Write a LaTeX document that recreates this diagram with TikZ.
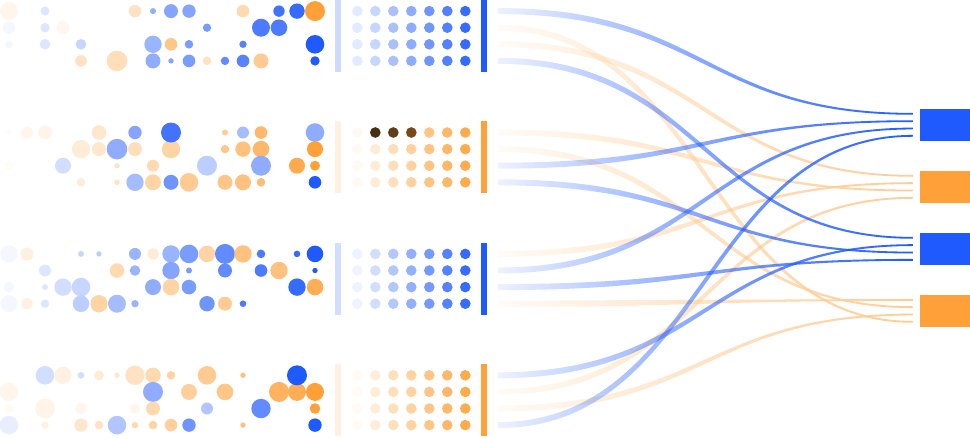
\documentclass[tikz,border=0pt]{standalone}
\usepackage{xcolor}
\usepackage{tikz}
\usetikzlibrary{calc,fadings,positioning}
\definecolor{myblue}{RGB}{31,90,255}
\definecolor{myorange}{RGB}{255,160,56}
\definecolor{mybrowndk}{RGB}{70,48,22}
\definecolor{mybrown}{RGB}{95,62,25}
\definecolor{mybrownlt}{RGB}{118,74,28}
\tikzfading[name=flowfade, left color=transparent!92, right color=transparent!0]

% tapered band from a row end to a target slot
\newcommand\flowband[3]{%
  \fill[fill=#3, path fading=flowfade]
    let \p1=(#1), \p2=(#2), \n3={(\x2-\x1)/2},
        \n1={atan2(\y2-\y1,\n3)}, \n2={-2.6*tan(\n1/2)} in
    (\x1,\y1+3pt) .. controls (\x1+\n3*1pt+\n2*1pt,\y1+3pt) and (\x2-\n3*1pt+\n2*1pt,\y2+0.9pt) .. (\x2,\y2+0.9pt)
    -- (\x2,\y2-0.9pt) .. controls (\x2-\n3*1pt-\n2*1pt,\y2-0.9pt) and (\x1+\n3*1pt-\n2*1pt,\y1-3pt) .. (\x1,\y1-3pt) -- cycle;}

\begin{document}
\begin{tikzpicture}[x=1pt, y=-1pt,
    sink/.style={minimum width=50pt, minimum height=31.7pt, inner sep=0pt, outer sep=0pt}]
  \useasboundingbox (0,0) rectangle (970,437);

  % scattered samples, group 1
  \foreach \col/\row/\rad/\tint in {0/0/9/myorange!10, 2/0/4.5/myblue!15, 7/0/6.3/myorange!30, 8/0/3/myblue!50,
      9/0/7/myblue!55, 10/0/6.7/myblue!55, 13/0/6.3/myorange!40, 15/0/5.7/myblue!85, 16/0/7.7/myblue!90, 17/0/10/myorange,
      0/1/6.3/myblue!5, 2/1/4.7/myblue!15, 3/1/6.7/myorange!8, 11/1/4.2/myblue!60, 14/1/9/myblue!80, 15/1/8.3/myblue!80,
      0/2/4/myblue!5, 2/2/5.3/myblue!15, 4/2/5.3/myblue!25, 8/2/8.7/myblue!45, 9/2/6.3/myorange!60, 10/2/4.3/myblue!60,
      13/2/3.7/myblue!75, 17/2/9.3/myblue,
      4/3/5.8/myorange!30, 6/3/10.3/myorange!35, 8/3/7.5/myblue!50, 9/3/2.7/myblue!55, 10/3/6.3/myblue!60,
      11/3/4.3/myorange!30, 12/3/4.2/myblue!70, 13/3/6.3/myblue!75, 14/3/7.5/myorange!55, 17/3/4.7/myblue}
    \fill[fill=\tint] ({9+18*\col},{36+(2*\row-3)*8.3}) circle (\rad);

  % group 2
  \foreach \col/\row/\rad/\tint in {0/0/2.5/myorange!5, 1/0/6/myorange!10, 2/0/7/myorange!12, 5/0/7.3/myorange!25,
      7/0/6.7/myblue!55, 12/0/3/myorange!55, 13/0/6/myblue!40, 14/0/6.3/myorange!75, 17/0/9.3/myblue!50,
      4/1/9.2/myorange!20, 5/1/7/myorange!25, 6/1/10.3/myblue!50, 7/1/7/myorange!35, 9/1/9.2/myorange!45,
      12/1/4.2/myorange!60, 13/1/7.7/myorange!65, 14/1/8.3/myorange!75, 17/1/8/myorange,
      0/2/4.7/myorange!4, 3/2/8/myblue!20, 6/2/2.7/myorange!30, 8/2/6/myorange!40, 11/2/10/myblue!30,
      14/2/10/myblue!50, 16/2/8/myorange!90, 17/2/5/myorange,
      4/3/4.3/myorange!20, 6/3/2.7/myorange!30, 7/3/8.7/myblue!40, 8/3/8/myorange!45, 9/3/7.5/myblue!65,
      10/3/9.3/myorange!55, 12/3/7.5/myorange!60, 13/3/8/myorange!65, 14/3/4.3/myorange!70, 17/3/6.3/myblue,
      9/0/10/myblue!85}
    \fill[fill=\tint] ({9+18*\col},{157.4+(2*\row-3)*8.3}) circle (\rad);

  % group 3
  \foreach \col/\row/\rad/\tint in {0/0/8.7/myblue!5, 1/0/6.7/myorange!15, 4/0/3/myblue!25, 5/0/2.7/myblue!30,
      7/0/6/myblue!45, 8/0/5.7/myorange!20, 9/0/8.7/myblue!45, 10/0/9.3/myblue!60, 11/0/8.3/myorange!45,
      12/0/10/myblue!70, 13/0/8.7/myorange!65, 14/0/4.3/myblue!80, 16/0/3.3/myblue!90, 17/0/8.3/myblue,
      2/1/6/myblue!15, 6/1/7.3/myorange!40, 7/1/5.3/myblue!45, 9/1/8.7/myblue!55, 10/1/3/myblue!60,
      12/1/7/myblue!70, 14/1/6.3/myblue!80, 15/1/8.7/myorange!65, 17/1/2.7/myblue,
      0/2/5.3/myblue!5, 2/2/3/myblue!15, 3/2/8.7/myblue!20, 4/2/9.3/myblue!25, 8/2/8/myblue!50,
      9/2/8.3/myorange!45, 10/2/7.3/myblue!60, 16/2/8.7/myblue!90, 17/2/8.3/myorange!85,
      0/3/8.7/myblue!5, 1/3/5.7/myorange!15, 2/3/4.3/myblue!15, 4/3/8.3/myblue!30, 5/3/8.7/myorange!45,
      6/3/9/myblue!40, 7/3/3.7/myblue!45, 11/3/7.7/myblue!65, 12/3/7/myorange!55, 13/3/3.3/myblue!80}
    \fill[fill=\tint] ({9+18*\col},{278.8+(2*\row-3)*8.3}) circle (\rad);

  % group 4
  \foreach \col/\row/\rad/\tint in {2/0/9.3/myblue!20, 3/0/8.7/myorange!15, 4/0/3.3/myblue!20, 5/0/5/myorange!20,
      6/0/2.7/myorange!25, 7/0/9.7/myorange!30, 8/0/7.7/myorange!40, 9/0/4.3/myorange!45, 11/0/9.3/myorange!55,
      13/0/2.7/myorange!65,
      0/1/9.3/myorange!10, 8/1/10/myblue!50, 10/1/8/myorange!50, 12/1/8.3/myorange!60, 15/1/10/myorange!80,
      16/1/9/myorange!85, 17/1/9/myorange,
      0/2/4.7/myorange!5, 2/2/10/myorange!12, 4/2/5.7/myorange!8, 7/2/5/myorange!10, 8/2/7/myorange!40,
      11/2/6/myblue!35, 14/2/9.7/myblue!70, 17/2/5.3/myorange,
      0/3/9.3/myblue!10, 2/3/3.7/myorange!15, 4/3/6.7/myorange!25, 5/3/4.3/myorange!30, 6/3/9.3/myblue!35,
      7/3/3.3/myorange!40, 8/3/4.3/myorange!45, 9/3/6.3/myorange!50, 10/3/6.7/myblue!65, 13/3/2.7/myorange!65,
      17/3/6.7/myblue, 16/0/10/myblue}
    \fill[fill=\tint] ({9+18*\col},{400.2+(2*\row-3)*8.3}) circle (\rad);

  % bars and dot grids
  \foreach \m/\base/\hue/\lt in {36/13/myblue/22, 157.4/6/myorange/15, 278.8/7/myblue/20, 400.2/5/myorange/15}{
    \fill[fill=\hue!\lt] (335,\m-36) rectangle (341,\m+36);
    \fill[fill=\hue] (481,\m-36) rectangle (486.5,\m+36);
    \foreach \c in {0,...,6}
      \foreach \row in {0,...,3}{
        \pgfmathtruncatemacro\pct{\base+\c*(90-\base)/6}
        \fill[fill=\hue!\pct] ({357.3+18*\c},{\m+(2*\row-3)*8.3}) circle (5.3);
      }
  }
  \fill[mybrowndk] (375.3,132.5) circle (5.3);
  \fill[mybrown] (393.3,132.5) circle (5.3);
  \fill[mybrownlt] (411.3,132.5) circle (5.3);

  % targets
  \node[sink, fill=myblue] (b1) at (945,124.85) {};
  \node[sink, fill=myorange] (o1) at (945,186.85) {};
  \node[sink, fill=myblue] (b2) at (945,248.85) {};
  \node[sink, fill=myorange] (o2) at (945,310.85) {};
  \foreach \tgt in {b1,o1,b2,o2}
    \foreach \i/\off in {1/-11,2/-3.7,3/3.7,4/11}
      \coordinate (\tgt-\i) at ($(\tgt.west)+(-7,\off)$);
  \foreach \g/\m in {1/36,2/157.4,3/278.8,4/400.2}
    \foreach \row in {0,...,3}
      \coordinate (s\g\row) at (498,{\m+(2*\row-3)*8.3});

  % flows, orange under blue
  \foreach \src/\dst in {s11/o2-4, s12/o1-1, s20/o1-3, s21/o2-2, s30/o1-2, s33/o2-1, s41/o1-4, s42/o2-3}
    \flowband{\src}{\dst}{myorange!55};
  \foreach \src/\dst in {s10/b1-1, s13/b2-1, s22/b1-2, s23/b2-3, s31/b1-3, s32/b2-4, s40/b2-2, s43/b1-4}
    \flowband{\src}{\dst}{myblue};
\end{tikzpicture}
\end{document}
